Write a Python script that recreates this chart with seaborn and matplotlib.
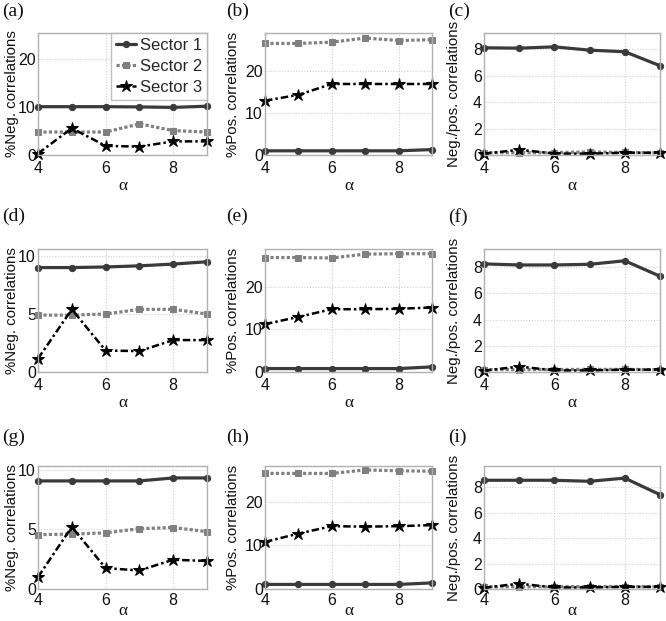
import matplotlib
matplotlib.use("Agg")
import matplotlib.pyplot as plt
import seaborn as sns
import numpy as np
import pandas as pd

sns.set_theme(style="white")
plt.rcParams['font.family'] = ['Liberation Sans', 'DejaVu Sans']

alpha = [4, 5, 6, 7, 8, 9]
sectors = ["Sector 1", "Sector 2", "Sector 3"]

# Row 1
a_s1 = [10.1, 10.1, 10.1, 10.05, 9.95, 10.2]
a_s2 = [4.8, 4.8, 4.8, 6.5, 5.1, 4.8]
a_s3 = [0.3, 5.6, 1.9, 1.75, 2.85, 2.85]
b_s1 = [1.0, 1.0, 1.0, 1.0, 1.0, 1.3]
b_s2 = [26.7, 26.7, 27.0, 28.0, 27.4, 27.6]
b_s3 = [13.0, 14.4, 17.0, 17.0, 17.0, 17.0]
c_s1 = [8.13, 8.1, 8.2, 7.95, 7.83, 6.77]
c_s2 = [0.18, 0.18, 0.18, 0.23, 0.19, 0.17]
c_s3 = [0.1, 0.4, 0.11, 0.1, 0.17, 0.17]
# Row 2
d_s1 = [9.0, 9.0, 9.05, 9.15, 9.3, 9.5]
d_s2 = [4.9, 4.9, 5.0, 5.4, 5.4, 5.0]
d_s3 = [1.15, 5.4, 1.85, 1.8, 2.75, 2.75]
e_s1 = [0.8, 0.8, 0.8, 0.8, 0.8, 1.2]
e_s2 = [26.8, 26.8, 26.7, 27.6, 27.7, 27.7]
e_s3 = [11.2, 12.9, 14.7, 14.7, 14.8, 15.1]
f_s1 = [8.26, 8.18, 8.18, 8.23, 8.5, 7.32]
f_s2 = [0.18, 0.19, 0.19, 0.2, 0.2, 0.18]
f_s3 = [0.1, 0.42, 0.12, 0.12, 0.18, 0.18]
# Row 3
g_s1 = [9.05, 9.05, 9.05, 9.05, 9.3, 9.3]
g_s2 = [4.55, 4.6, 4.7, 5.05, 5.15, 4.8]
g_s3 = [1.0, 5.2, 1.75, 1.55, 2.45, 2.35]
h_s1 = [1.05, 1.05, 1.05, 1.05, 1.05, 1.4]
h_s2 = [26.5, 26.5, 26.5, 27.3, 27.1, 27.0]
h_s3 = [10.8, 12.7, 14.4, 14.3, 14.4, 14.65]
i_s1 = [8.53, 8.53, 8.53, 8.45, 8.7, 7.4]
i_s2 = [0.17, 0.18, 0.18, 0.19, 0.19, 0.17]
i_s3 = [0.1, 0.42, 0.12, 0.12, 0.17, 0.17]

panel_labels = ["(a)", "(b)", "(c)", "(d)", "(e)", "(f)", "(g)", "(h)", "(i)"]
ylabels = ["%Neg. correlations", "%Pos. correlations", "Neg./pos. correlations"]
xlabel = "\u03b1"

panels = [
    (a_s1, a_s2, a_s3), (b_s1, b_s2, b_s3), (c_s1, c_s2, c_s3),
    (d_s1, d_s2, d_s3), (e_s1, e_s2, e_s3), (f_s1, f_s2, f_s3),
    (g_s1, g_s2, g_s3), (h_s1, h_s2, h_s3), (i_s1, i_s2, i_s3),
]

ytops = [25.5, 29.2, 9.25, 10.6, 28.8, 9.4, 10.3, 28.2, 9.65]
yticks = [[0, 10, 20], [0, 10, 20], [0, 2, 4, 6, 8],
          [0, 5, 10], [0, 10, 20], [0, 2, 4, 6, 8],
          [0, 5, 10], [0, 10, 20], [0, 2, 4, 6, 8]]

styles = [
    dict(color="#3a3a3a", linestyle="-", marker="o", markersize=4.5, linewidth=2.3,
         markeredgecolor="#3a3a3a"),
    dict(color="#808080", linestyle=(0, (1, 0.7)), marker="s", markersize=4.5, linewidth=2.3,
         markeredgecolor="#808080"),
    dict(color="#000000", linestyle=(0, (3, 1.2, 1, 1.2)), marker="*", markersize=9, linewidth=1.8,
         markeredgecolor="#000000"),
]

W, H = 666, 621
fig = plt.figure(figsize=(W / 100, H / 100), dpi=100)

col_lr = [(38, 207), (265, 432), (484, 660)]
row_tb = [(33, 155), (249, 372), (466, 589)]
label_x = [2, 226, 448]
label_rows = [3, 208, 429]
ylab_right = [19, 240, 461]
xlab_pad = [1, 1, -4]

for idx, (series, plab) in enumerate(zip(panels, panel_labels)):
    r, c = divmod(idx, 3)
    l, rr = col_lr[c]
    t, b = row_tb[r]
    ax = fig.add_axes([l / W, 1 - b / H, (rr - l) / W, (b - t) / H])
    for name, vals, st in zip(sectors, series, styles):
        sns.lineplot(x=alpha, y=vals, ax=ax, label=name, clip_on=False, **st)
    ax.set_xlim(4, 9)
    ax.set_ylim(0, ytops[idx])
    ax.set_xticks([4, 6, 8])
    ax.set_yticks(yticks[idx])
    ax.grid(True, linestyle=(0, (1, 1.5)), color="#d0d0d0", linewidth=0.8)
    for sp in ax.spines.values():
        sp.set_color("#b0b0b0")
        sp.set_linewidth(1.0)
    ax.tick_params(axis="both", labelsize=11.5, direction="in", length=3,
                   color="#b0b0b0", labelcolor="#111111")
    ax.tick_params(axis="x", pad=4.5 if r < 2 else 3.0)
    ax.tick_params(axis="y", pad=1.5)
    ax.set_xlabel(xlabel, fontsize=12.5, family=["Liberation Serif", "DejaVu Serif"],
                  labelpad=xlab_pad[r], color="#111111")
    ax.set_ylabel(ylabels[c], fontsize=10.8, color="#111111")
    ax.yaxis.set_label_coords((ylab_right[c] - l) / (rr - l), 0.5)
    if idx == 0:
        leg = ax.legend(loc="upper right", fontsize=12, handlelength=1.2,
                        handletextpad=0.25, borderpad=0.3, labelspacing=0.35,
                        borderaxespad=0.0, frameon=True, fancybox=False)
        leg.get_frame().set_edgecolor("#b0b0b0")
        leg.get_frame().set_linewidth(1.0)
    else:
        ax.get_legend().remove()
    fig.text(label_x[c] / W, 1 - label_rows[r] / H, plab, fontsize=14,
             family=["Liberation Serif", "DejaVu Serif"], va="top", ha="left",
             color="#111111")

fig.savefig("out.png", dpi=100)
